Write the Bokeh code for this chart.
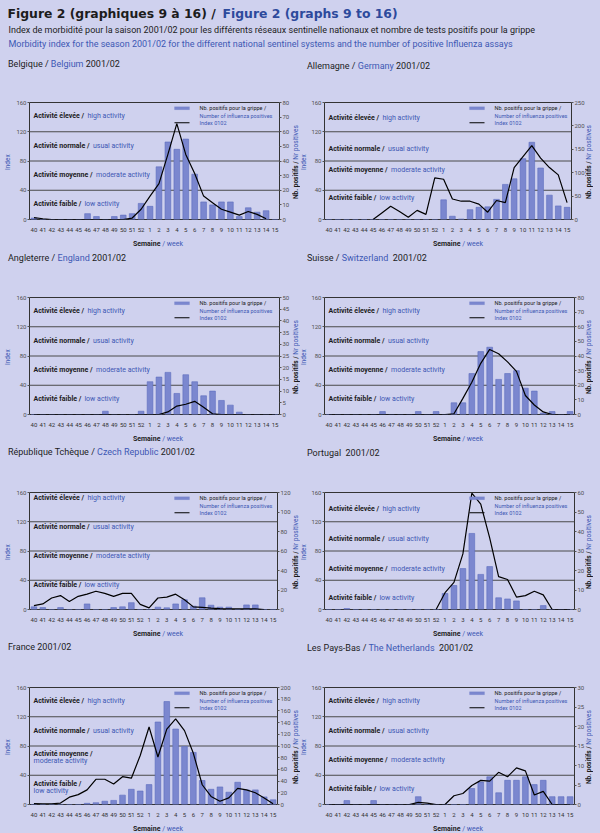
import math
import numpy as np
from bokeh.plotting import figure
from bokeh.models import (ColumnDataSource, FactorRange, Range1d, LinearAxis, FixedTicker,
                          Label, Span, BoxAnnotation, Div)
from bokeh.layouts import column, row
from bokeh.embed import file_html
from bokeh.resources import INLINE

# ---------------- data ----------------
weeks = ["40", "41", "42", "43", "44", "45", "46", "47", "48", "49", "50", "51", "52",
         "1", "2", "3", "4", "5", "6", "7", "8", "9", "10", "11", "12", "13", "14", "15"]

index_ticks = [0, 40, 80, 120, 160]
activity_thresholds = [40, 80, 120]

belgium_pos = [1, 0, 0, 0, 0, 0, 4, 2, 0, 2, 3, 4, 11, 9, 36, 53, 48, 55, 31, 12, 10, 12, 12, 2, 8, 5, 6, 0]
belgium_idx = [2.5, 1, 0, 0, 0, 0, 0, 0, 0, 0, 0, 2, 14, 32, 49, 89, 131, 89, 63, 32, 23, 14, 10, 6, 11, 7, 1, None]

germany_pos = [0, 0, 0, 0, 0, 0, 0, 0, 0, 0, 0, 0, 0, 42, 7, 1, 21, 26, 27, 43, 75, 87, 130, 165, 110, 52, 29, 26]
germany_idx = [None, None, None, None, None, 0, 9, 18, 11, 3, 12.5, 7, 57, 55, 28, 25, 25, 21, 10, 26, 23, 71, 86, 101, 84, 71, 61, 23]

england_pos = [0, 0, 0, 0, 0, 0, 0, 0, 1.4, 0, 0, 0, 1.4, 14, 16, 18, 9, 17, 14, 8, 10, 6, 4, 1, 0, 0, 0, 0]
england_idx = [0, 0, 0, 0, 0, 0, 0, 0, 0, 0, 0, 0, 0, 0, 0, 3.5, 11.5, 14, 18, 10, 1, 0, 0, 0, 0, 0, 0, 0]

switzerland_pos = [0, 0, 0, 0, 0, 0, 2, 0, 0, 0, 2, 0, 2, 0, 8, 8, 28, 43, 46, 24, 28, 30, 18, 16, 1, 2, 0, 2]
switzerland_idx = [0, 0, 0, 0, 0, 0, 0, 0, 0, 0, 0, 0, 0, 0, 1, 22, 44, 70, 89, 83, 72, 59, 26, 13, 3.5, 0, 0, 0]

czech_pos = [2.7, 2, 0, 2, 0, 0, 5.7, 0, 0, 2, 2.7, 7, 0, 0, 2.4, 1.7, 5.7, 10, 3.4, 12, 4.4, 2.4, 2.4, 0, 4.7, 4.7, 0, 0]
czech_idx = [5.4, 7.6, 15.7, 19, 11, 18, 21, 25, 22, 18, 22, 22, 7, 2.2, 15.7, 17, 21, 13.4, 3.6, 3, 2, 1.3, 1, 1, 1, 1, 0, None]

portugal_pos = [0, 0, 0.5, 0, 0, 0, 0, 0, 0, 0, 0, 0, 0, 8.2, 12.3, 21, 39, 18, 22, 6, 5.4, 4.4, 0, 0, 2, 0, 0, 0]
portugal_idx = [None] * 12 + [0, 23, 37, 76, 159, 144, 98, 45, 41, 17, 19, 25, 20, 0, 0, 0]

france_pos = [0, 0, 0, 0, 0, 0, 2, 3, 5.6, 7, 16, 26, 23, 34, 141, 176, 129, 99, 89, 41, 26, 30, 21, 38, 25, 25, 13, 8]
france_idx = [1.3, 1, 1, 2, 10, 13.5, 20, 34.5, 34.5, 28, 38, 36, 67, 106, 65, 103, 117, 101, 70, 27, 11, 4.5, 9, 22, 20, 16, 9, 1]

netherlands_pos = [0, 0, 1, 0, 0, 1, 0, 0, 0, 0, 2, 0, 0, 0, 0, 0, 4.1, 5.75, 7.1, 3, 6.2, 6.2, 7.1, 5.1, 6.2, 2, 2, 2]
netherlands_idx = [0, 0, 0, 0, 0, 0, 0, 0, 0, 0, 3, 2, 0, 0, 12, 15, 26, 33, 32, 44, 38, 50, 46, 13, 18, 0, 0, 0]

activity_fr = ["Activité élevée /", "Activité normale /", "Activité moyenne /", "Activité faible /"]
activity_en = ["high activity", "usual activity", "moderate activity", "low activity"]

# ---------------- style ----------------
BG = "#cfd1ee"
BLUE = "#3d58b4"
BLACK = "#1c1c1c"
BAR = "#7b87cf"
BAR_EDGE = "#5d6bbd"
FONT = "Roboto"
FH = 120          # frame height px
PX = 160.0 / FH   # index units per pixel

W = {' ': 0.248, '.': 0.263, '/': 0.412, '(': 0.342, ')': 0.348, '-': 0.276, 'i': 0.243, 'l': 0.243,
     'j': 0.239, 'f': 0.347, 't': 0.327, 'r': 0.338, 'm': 0.877, 'w': 0.734, 'c': 0.512, 'k': 0.496,
     's': 0.504, 'v': 0.473, 'y': 0.463, 'z': 0.496, 'x': 0.484, 'I': 0.278, 'M': 0.872, 'W': 0.872,
     'T': 0.597, 'P': 0.63, 'S': 0.594, 'F': 0.553, 'E': 0.568, 'L': 0.538, 'C': 0.651, 'N': 0.713,
     'B': 0.622, 'A': 0.652, 'R': 0.616}


def tw(s, size, bold=False):
    w = 0.0
    for ch in s:
        if ch in W:
            w += W[ch]
        elif ch.isdigit():
            w += 0.562
        elif ch.isupper():
            w += 0.65
        else:
            w += 0.54
    return w * size * (1.05 if bold else 1.0)


def lab(p, text, x, y, size, color, bold=False, align="left", xu="screen", yu="data", font=FONT):
    p.add_layout(Label(x=x, y=y, x_units=xu, y_units=yu, text=text, text_font=font,
                       text_font_size=f"{size}px", text_font_style="bold" if bold else "normal",
                       text_color=color, text_align=align, text_baseline="middle"))


def vdiv(html, width, height, line_h, top, span):
    inner = (f'<div style="writing-mode:vertical-rl;transform:rotate(180deg);width:{width}px;'
             f'height:{span}px;margin-top:{top}px;line-height:{line_h}px;text-align:center;'
             f'white-space:nowrap;font-family:{FONT};font-size:6.5px;">{html}</div>')
    return Div(text=inner, width=width, height=height, margin=0)


def make_figure(pos, idx, rmax, rstep, act_y, mbl, mbr, two_line=False):
    fw = 252
    p = figure(width=mbl + fw + mbr, height=152, x_range=FactorRange(factors=weeks, range_padding=0),
               y_range=Range1d(0, 160), output_backend="svg", toolbar_location=None,
               min_border_left=mbl, min_border_right=mbr, min_border_top=20, min_border_bottom=12,
               background_fill_color=BG, border_fill_color=BG, outline_line_color="#333333")
    p.xgrid.visible = False
    p.ygrid.visible = False
    p.extra_y_ranges = {"pos": Range1d(0, rmax)}
    rax = LinearAxis(y_range_name="pos", ticker=FixedTicker(ticks=list(range(0, rmax + 1, rstep))))
    p.add_layout(rax, "right")
    p.yaxis[0].ticker = FixedTicker(ticks=index_ticks)
    for ax in p.yaxis:
        ax.major_label_text_font = FONT
        ax.major_label_text_font_size = "6px"
        ax.major_label_text_color = "#505050"
        ax.axis_line_color = None
        ax.major_tick_out = 2
        ax.major_tick_in = 0
        ax.major_tick_line_color = "#555555"
        ax.minor_tick_line_color = None
        ax.major_label_standoff = 1
    xa = p.xaxis[0]
    xa.major_label_text_font = FONT
    xa.major_label_text_font_size = "6px"
    xa.major_label_text_color = "#333333"
    xa.axis_line_color = None
    xa.major_tick_line_color = None
    xa.major_label_standoff = 2

    for t in activity_thresholds:
        p.add_layout(Span(location=t, dimension="width", line_color="#4a4a4a", line_width=1,
                          level="underlay"))

    src = ColumnDataSource(dict(week=weeks, pos=pos,
                                idx=np.array([np.nan if v is None else v for v in idx], dtype=float)))
    p.vbar(x="week", top="pos", width=0.64, source=src, y_range_name="pos",
           fill_color=BAR, line_color=BAR_EDGE, line_width=0.6)
    p.line(x="week", y="idx", source=src, line_color="black", line_width=1.2)

    # activity labels
    for k in range(4):
        if two_line and k >= 2:
            yf, ye = act_y[k]
            lab(p, activity_fr[k], 4, yf, 7, BLACK, bold=True)
            lab(p, activity_en[k], 4, ye, 7, BLUE)
        else:
            lab(p, activity_fr[k], 4, act_y[k], 7, BLACK, bold=True)
            lab(p, activity_en[k], 4 + tw(activity_fr[k] + " ", 7, True), act_y[k], 7, BLUE)

    # legend
    p.add_layout(BoxAnnotation(left=fw - 107, right=fw - 92, left_units="screen", right_units="screen",
                               bottom=150.2, top=154.2, fill_color=BAR, fill_alpha=1.0,
                               line_color=BAR_EDGE, line_width=0.5))
    p.add_layout(BoxAnnotation(left=fw - 107, right=fw - 92, left_units="screen", right_units="screen",
                               bottom=131.6, top=132.9, fill_color="black", fill_alpha=1.0,
                               line_color=None))
    lab(p, "Nb. positifs pour la grippe /", fw - 82, 152.2, 5.5, BLACK)
    lab(p, "Number of influenza positives", fw - 82, 142, 5.5, BLUE)
    lab(p, "Index 0102", fw - 82, 132.2, 5.5, BLUE)
    return p


def make_panel(fr, en, pos, idx, rmax, rstep, act_y, side, two_line=False, xh=11, gap=" ", tshift=0):
    if side == "left":
        lw, mbl, mbr, rw = 13, 14, 14, 7
        l_lh, r_lh, tpad = 16, 7, 8
    else:
        lw, mbl, mbr, rw = 8, 14, 13, 13
        l_lh, r_lh, tpad = 8, 5, 7
    p = make_figure(pos, idx, rmax, rstep, act_y, mbl, mbr, two_line)
    g = "&nbsp; " if gap == "  " else " "
    if en:
        t = f'{fr} / <span style="color:{BLUE}">{en}</span>{g}2001/02'
    else:
        t = f'{fr}{g}2001/02'
    title = Div(text=(f'<div style="font-family:{FONT};font-size:9px;line-height:9px;color:{BLACK};'
                      f'padding:{9 + tshift}px 0 0 {tpad}px;white-space:nowrap;">{t}</div>'),
                width=300, height=32, margin=0)
    left = vdiv(f'<span style="color:{BLUE}">Index</span>', lw, 152, l_lh, 20, 120)
    right = vdiv(f'<b style="color:{BLACK}">Nb. positifs /</b> <span style="color:{BLUE}">Nr positives</span>',
                 rw, 152, r_lh, 20, 120)
    xt = Div(text=(f'<div style="font-family:{FONT};font-size:7px;line-height:7px;text-align:center;'
                   f'width:300px;box-sizing:border-box;padding:0 0 0 16px;margin-top:-2px;'
                   f'white-space:nowrap;"><b style="color:{BLACK}">Semaine</b> '
                   f'<span style="color:{BLUE}">/ week</span></div>'),
             width=300, height=xh, margin=0)
    return column(title, row(left, p, right), xt)


default_y = [141, 100, 61, 21]
panels = [
    make_panel("Belgique", "Belgium", belgium_pos, belgium_idx, 80, 10, default_y, "left", tshift=1),
    make_panel("Allemagne", "Germany", germany_pos, germany_idx, 250, 50, [139, 97, 68, 29], "right",
               tshift=3),
    make_panel("Angleterre", "England", england_pos, england_idx, 50, 5, default_y, "left"),
    make_panel("Suisse", "Switzerland", switzerland_pos, switzerland_idx, 80, 10, default_y, "right",
               gap="  "),
    make_panel("République Tchèque", "Czech Republic", czech_pos, czech_idx, 120, 20, [153, 113, 73, 33], "left",
               tshift=-1),
    make_panel("Portugal", None, portugal_pos, portugal_idx, 60, 10, [137, 96, 56, 16], "right", gap="  "),
    make_panel("France", None, france_pos, france_idx, 200, 20, [141, 100, (69, 59), (28, 18)], "left",
               two_line=True, xh=14, tshift=-1),
    make_panel("Les Pays-Bas", "The Netherlands", netherlands_pos, netherlands_idx, 30, 5, default_y, "right",
               xh=14, gap="  "),
]

# header
hdr = figure(width=600, height=50, x_range=Range1d(0, 600), y_range=Range1d(50, 0),
             x_axis_location=None, y_axis_location=None, min_border=0, toolbar_location=None,
             output_backend="svg", background_fill_color=BG, border_fill_color=BG, outline_line_color=None)
hdr.xgrid.visible = False
hdr.ygrid.visible = False
lab(hdr, "Figure 2 (graphiques 9 à 16) /", 7, 12.5, 12.4, BLACK, bold=True, xu="data", font="DejaVu Sans")
lab(hdr, "Figure 2 (graphs 9 to 16)", 222, 12.5, 12.4, "#2d4a9c", bold=True, xu="data", font="DejaVu Sans")
lab(hdr, "Index de morbidité pour la saison 2001/02 pour les différents réseaux sentinelle nationaux et nombre de tests positifs pour la grippe",
    8, 29, 9, BLACK, xu="data")
lab(hdr, "Morbidity index for the season 2001/02 for the different national sentinel systems and the number of positive Influenza assays",
    8, 43, 9, BLUE, xu="data")

layout = column(hdr, row(panels[0], panels[1]), row(panels[2], panels[3]),
                row(panels[4], panels[5]), row(panels[6], panels[7]))
try:
    from bokeh.models import GlobalInlineStyleSheet
    layout.stylesheets = [GlobalInlineStyleSheet(css="html, body { background-color: #cfd1ee; }")]
except Exception:
    pass

open("out.html", "w").write(file_html(layout, INLINE))
